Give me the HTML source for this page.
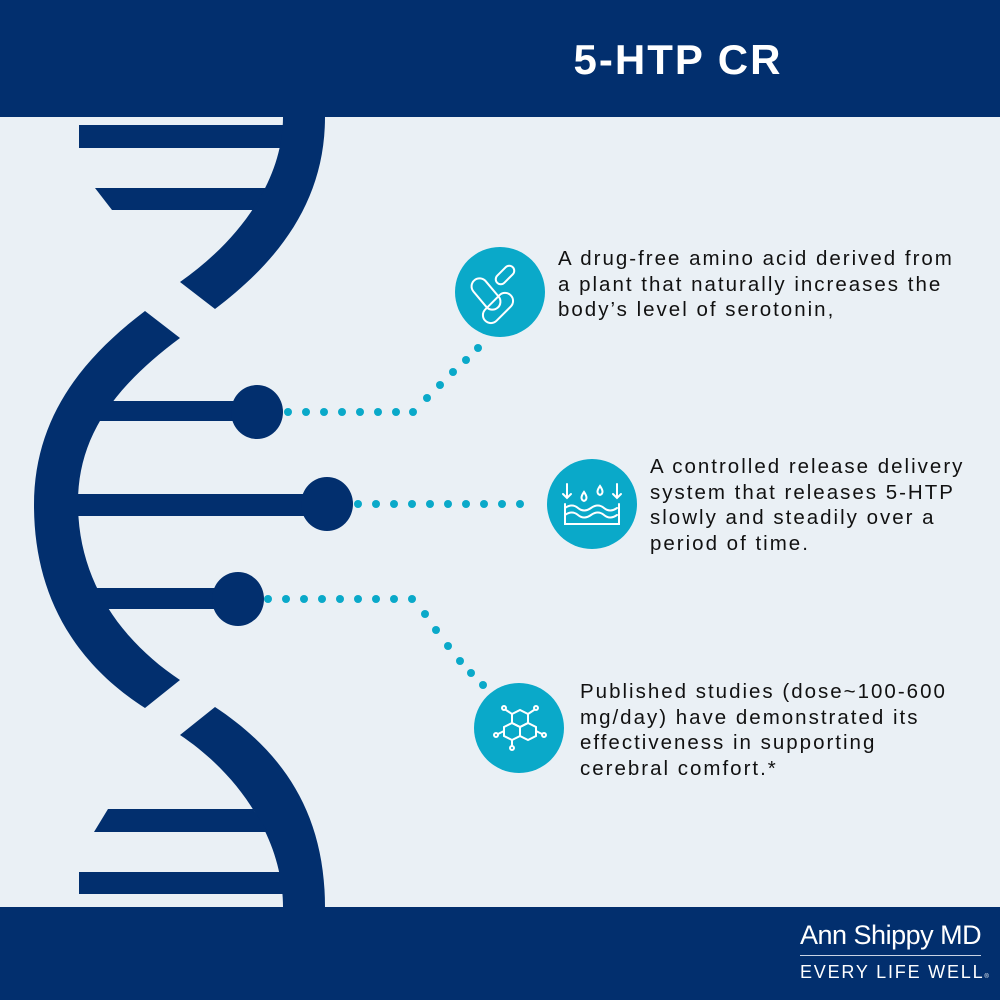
<!DOCTYPE html>
<html><head><meta charset="utf-8"><style>
html,body{margin:0;padding:0}
body{width:1000px;height:1000px;position:relative;background:#eaf0f5;overflow:hidden;font-family:"Liberation Sans",sans-serif}
.t{position:absolute;font-size:20.5px;line-height:25.5px;color:#111;letter-spacing:2px;white-space:nowrap}
</style></head><body>
<div style="position:absolute;left:0;top:0;width:1000px;height:117px;background:#022f6e"></div>
<div style="position:absolute;left:0;top:907px;width:1000px;height:93px;background:#022f6e"></div>
<div style="position:absolute;left:520px;top:36px;width:316px;text-align:center;color:#fff;font-weight:bold;font-size:42px;letter-spacing:2px">5-HTP CR</div>
<svg width="1000" height="1000" style="position:absolute;left:0;top:0">
<g fill="#022f6e">
<rect x="79" y="125" width="214" height="23"/>
<polygon points="95,188 275,188 262,210 112,210"/>
<path d="M283,117 L325,117 C325,200 280,260 215,309 L180,282 C240,240 283,180 283,117 Z"/>
<path d="M145,311 L180,338 C110,390 78,440 78,503 C78,580 120,640 180,680 L145,708 C70,660 34,590 34,505 C34,420 80,360 145,311 Z"/>
<path d="M215,707 C280,750 325,810 325,907 L283,907 C283,840 240,775 180,735 Z"/>
<polygon points="108,809 253,809 268,832 94,832"/>
<rect x="79" y="872" width="204" height="22"/>
<rect x="100" y="401" width="160" height="20"/>
<ellipse cx="257" cy="412" rx="26" ry="27"/>
<rect x="78" y="494" width="250" height="22"/>
<ellipse cx="327" cy="504" rx="26" ry="27"/>
<rect x="96" y="588" width="145" height="21"/>
<ellipse cx="238" cy="599" rx="26" ry="27"/>
</g>
<g fill="#0aa9c9">
<circle cx="288" cy="412" r="4"/><circle cx="306" cy="412" r="4"/><circle cx="324" cy="412" r="4"/><circle cx="342" cy="412" r="4"/><circle cx="360" cy="412" r="4"/><circle cx="378" cy="412" r="4"/><circle cx="396" cy="412" r="4"/><circle cx="413" cy="412" r="4"/>
<circle cx="427" cy="398" r="4"/><circle cx="440" cy="385" r="4"/><circle cx="453" cy="372" r="4"/><circle cx="466" cy="360" r="4"/><circle cx="478" cy="348" r="4"/>
<circle cx="358" cy="504" r="4"/><circle cx="376" cy="504" r="4"/><circle cx="394" cy="504" r="4"/><circle cx="412" cy="504" r="4"/><circle cx="430" cy="504" r="4"/><circle cx="448" cy="504" r="4"/><circle cx="466" cy="504" r="4"/><circle cx="484" cy="504" r="4"/><circle cx="502" cy="504" r="4"/><circle cx="520" cy="504" r="4"/>
<circle cx="268" cy="599" r="4"/><circle cx="286" cy="599" r="4"/><circle cx="304" cy="599" r="4"/><circle cx="322" cy="599" r="4"/><circle cx="340" cy="599" r="4"/><circle cx="358" cy="599" r="4"/><circle cx="376" cy="599" r="4"/><circle cx="394" cy="599" r="4"/><circle cx="412" cy="599" r="4"/>
<circle cx="425" cy="614" r="4"/><circle cx="436" cy="630" r="4"/><circle cx="448" cy="646" r="4"/><circle cx="460" cy="661" r="4"/><circle cx="471" cy="673" r="4"/><circle cx="483" cy="685" r="4"/>
<circle cx="500" cy="292" r="45"/><circle cx="592" cy="504" r="45"/><circle cx="519" cy="728" r="45"/>
</g>
<g fill="none" stroke="#fff" stroke-width="2" stroke-linecap="round">
<rect x="500" y="264" width="10" height="22" rx="5" transform="rotate(45 505 275)"/>
<rect x="478" y="276" width="16" height="36" rx="8" transform="rotate(-40 486 294)"/>
<rect x="490" y="290" width="16" height="36" rx="8" transform="rotate(45 498 308)"/>
<path d="M567,484 v14 M563,494 l4,4 4,-4 M617,484 v14 M613,494 l4,4 4,-4"/>
<path d="M584,492 q-5,7 0,9 q5,-2 0,-9 Z M600,486 q-5,7 0,9 q5,-2 0,-9 Z"/>
<path d="M565,508 q7,-5 13,0 t13,0 t13,0 t13,0 M565,515 q7,-5 13,0 t13,0 t13,0 t13,0 M565,504 v20 h54 v-20"/>
<polygon points="512,714 520,710 528,714 528,723 520,727 512,723"/>
<polygon points="520,727 528,723 536,727 536,736 528,740 520,736"/>
<polygon points="504,727 512,723 520,727 520,736 512,740 504,736"/>
<path d="M512,714 l-6,-4 M528,714 l6,-4 M536,731 l6,3 M504,731 l-6,3 M512,740 v6"/>
<circle cx="504" cy="708" r="2"/><circle cx="536" cy="708" r="2"/><circle cx="544" cy="735" r="2"/><circle cx="496" cy="735" r="2"/><circle cx="512" cy="748" r="2"/>
</g>
</svg>
<div class="t" style="left:558px;top:246px">A drug-free amino acid derived from<br>a plant that naturally increases the<br>body’s level of serotonin,</div>
<div class="t" style="left:650px;top:454px">A controlled release delivery<br>system that releases 5-HTP<br>slowly and steadily over a<br>period of time.</div>
<div class="t" style="left:580px;top:679px">Published studies (dose~100-600<br>mg/day) have demonstrated its<br>effectiveness in supporting<br>cerebral comfort.*</div>
<div style="position:absolute;left:800px;top:920px;color:#fff;font-size:27px;letter-spacing:-0.5px">Ann Shippy MD</div>
<div style="position:absolute;left:800px;top:955px;width:181px;height:1px;background:#c8d3e4"></div>
<div style="position:absolute;left:800px;top:962px;color:#fff;font-size:18px;letter-spacing:1.8px">EVERY LIFE WELL<span style="font-size:6px">®</span></div>
</body></html>
